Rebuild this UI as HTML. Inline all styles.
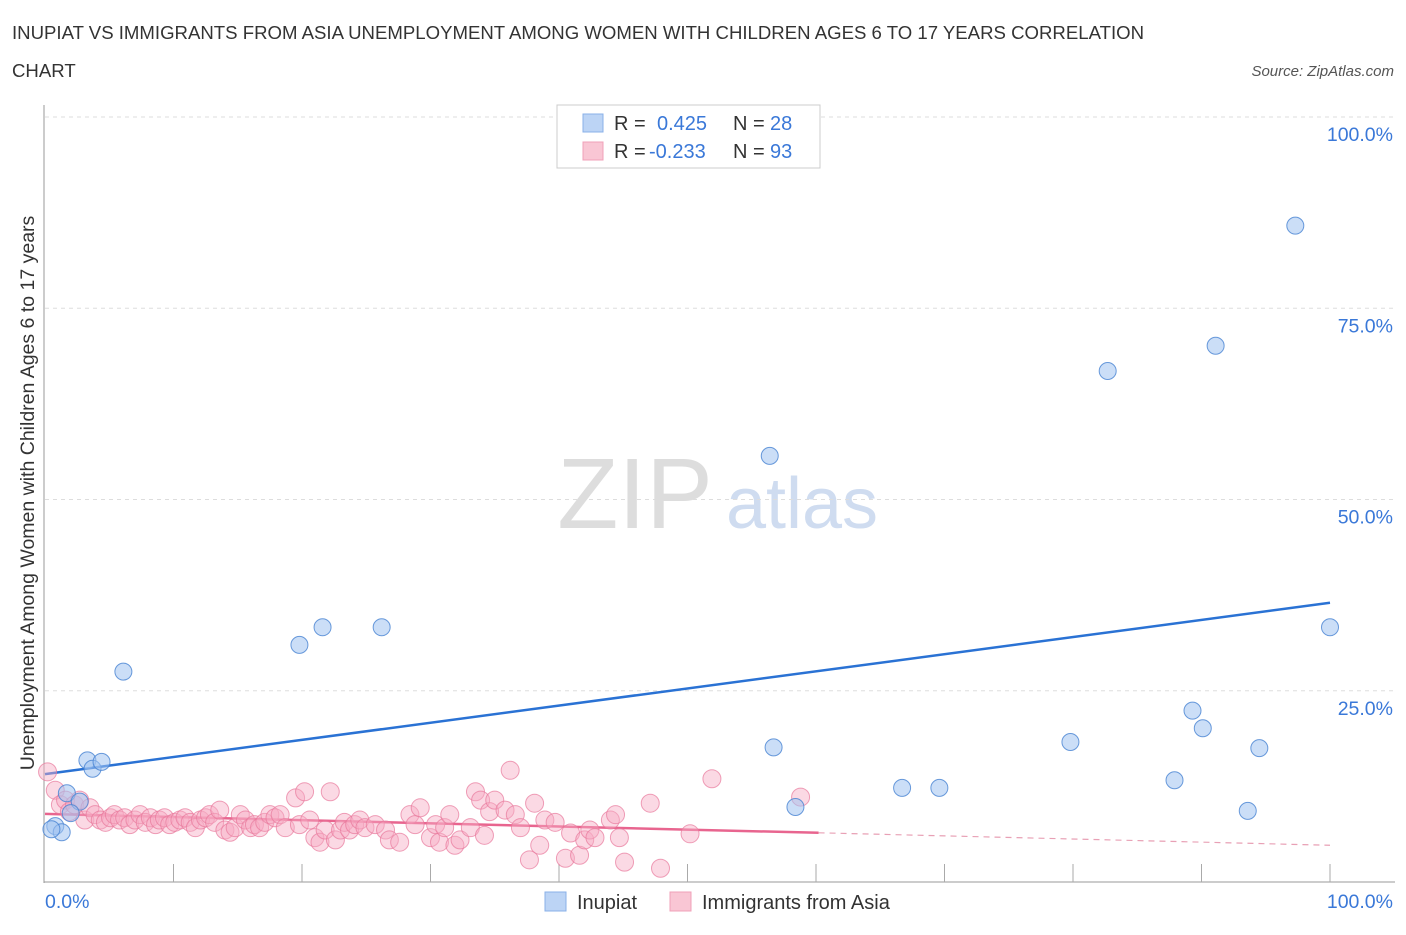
<!DOCTYPE html>
<html><head><meta charset="utf-8"><style>
body{margin:0;background:#fff;font-family:"Liberation Sans",sans-serif}
svg text{font-family:"Liberation Sans",sans-serif}
</style></head><body>
<svg id="chart" width="1406" height="930">
<text x="12" y="39" font-size="18.6" fill="#333">INUPIAT VS IMMIGRANTS FROM ASIA UNEMPLOYMENT AMONG WOMEN WITH CHILDREN AGES 6 TO 17 YEARS CORRELATION</text>
<text x="12" y="77" font-size="18.6" fill="#333">CHART</text>
<text x="1394" y="76" font-size="15" fill="#555" font-style="italic" text-anchor="end">Source: ZipAtlas.com</text>
<text x="34" y="493" font-size="19.5" fill="#333" text-anchor="middle" transform="rotate(-90 34 493)">Unemployment Among Women with Children Ages 6 to 17 years</text>
<text x="635" y="528" font-size="100" fill="#ddd" font-family="Liberation Serif" text-anchor="middle">ZIP</text>
<text x="802" y="528" font-size="72" fill="#cfdcf0" text-anchor="middle">atlas</text>
<g id="grid"></g><g id="axes"></g><g id="lines"></g><g id="pts"></g>
<g>
<rect x="557" y="105" width="263" height="63" fill="#fff" stroke="#ccc"/>
<rect x="583" y="114" width="20" height="18" fill="#bcd4f5" stroke="#8ab0e8"/>
<rect x="583" y="142" width="20" height="18" fill="#f9c6d4" stroke="#f0a0b8"/>
<text x="614" y="130" font-size="20" fill="#333">R = </text><text x="657" y="130" font-size="20" fill="#3a78d8">0.425</text>
<text x="733" y="130" font-size="20" fill="#333">N = </text><text x="770" y="130" font-size="20" fill="#3a78d8">28</text>
<text x="614" y="158" font-size="20" fill="#333">R = </text><text x="649" y="158" font-size="20" fill="#3a78d8">-0.233</text>
<text x="733" y="158" font-size="20" fill="#333">N = </text><text x="770" y="158" font-size="20" fill="#3a78d8">93</text>
</g>
<g>
<rect x="545" y="892" width="21" height="19" fill="#bcd4f5" stroke="#8ab0e8"/>
<text x="577" y="909" font-size="20" fill="#333">Inupiat</text>
<rect x="670" y="892" width="21" height="19" fill="#f9c6d4" stroke="#f0a0b8"/>
<text x="702" y="909" font-size="20" fill="#333">Immigrants from Asia</text>
</g>
</svg>
<script>
const blueX=[0.8,1.3,0.5,1.7,2.7,3.3,3.7,4.4,6.1,19.8,21.6,26.2,56.4,56.7,58.4,66.7,69.6,79.8,82.7,87.9,89.3,90.1,91.1,93.6,94.5,97.3,100,2.0];
const blueY=[7.3,6.5,6.9,11.6,10.5,15.9,14.8,15.7,27.5,31.0,33.3,33.3,55.7,17.6,9.8,12.3,12.3,18.3,66.8,13.3,22.4,20.1,70.1,9.3,17.5,85.8,33.3,9.0];
const pinkX=[0.2,0.8,1.2,1.6,1.9,2.3,2.7,3.1,3.5,3.9,4.3,4.7,5.1,5.4,5.8,6.2,6.6,7.0,7.4,7.8,8.2,8.6,8.9,9.3,9.7,10.1,10.5,10.9,11.3,11.7,12.1,12.5,12.8,13.2,13.6,14.0,14.4,14.8,15.2,15.6,16.0,16.3,16.7,17.1,17.5,17.9,18.3,18.7,19.5,19.8,20.2,20.6,21.0,21.4,21.8,22.2,22.6,23.0,23.3,23.7,24.1,24.5,24.9,25.7,26.5,26.8,27.6,28.4,28.8,29.2,30.0,30.4,30.7,31.1,31.5,31.9,32.3,33.1,33.5,33.9,34.2,34.6,35.0,35.8,36.2,36.6,37.0,37.7,38.1,38.5,38.9,39.7,40.5,40.9,41.6,42.0,42.4,42.8,44.0,44.4,44.7,45.1,47.1,47.9,50.2,51.9,58.8];
const pinkY=[14.4,12.0,10.1,10.7,9.2,10.1,10.7,8.1,9.7,8.8,8.1,7.8,8.4,8.8,8.1,8.4,7.5,8.1,8.8,7.8,8.4,7.5,8.1,8.4,7.5,7.8,8.1,8.4,7.8,7.1,8.1,8.4,8.8,7.8,9.4,6.8,6.5,7.1,8.8,8.1,7.1,7.5,7.1,7.8,8.8,8.4,8.8,7.1,11.0,7.5,11.8,8.1,5.8,5.2,6.8,11.8,5.5,6.8,7.8,6.8,7.5,8.1,7.1,7.5,6.8,5.5,5.2,8.8,7.5,9.7,5.8,7.5,5.2,7.1,8.8,4.8,5.5,7.1,11.8,10.7,6.1,9.2,10.7,9.4,14.6,8.8,7.1,2.9,10.3,4.8,8.1,7.8,3.1,6.4,3.5,5.5,6.8,5.8,8.1,8.8,5.8,2.6,10.3,1.8,6.3,13.5,11.1];
const trendBlue=[14.1,36.5];
const trendPink=[8.9,4.8];
const yTicks=[25,50,75,100];
const xTicks=[0,10,20,30,40,50,60,70,80,90,100];
const sx=v=>45+v*12.85, sy=v=>882-v*7.65;
const NS="http://www.w3.org/2000/svg";
function mk(p,t,a){const e=document.createElementNS(NS,t);for(const k in a)e.setAttribute(k,a[k]);p.appendChild(e);return e;}
const grid=document.getElementById('grid'),axes=document.getElementById('axes'),lines=document.getElementById('lines'),pts=document.getElementById('pts');
yTicks.forEach(t=>{
 const l=mk(grid,'line',{x1:45,x2:1395,y1:sy(t),y2:sy(t),stroke:'#ddd','stroke-dasharray':'4,4'});
 
 
 const tx=mk(grid,'text',{x:1393,y:sy(t)+24,'font-size':19.5,fill:'#3a78d8','text-anchor':'end'});
 tx.textContent=t.toFixed(1)+'%';
 
 
});
const ya=mk(axes,'line',{x1:44,x2:44,y1:105,y2:883,stroke:'#999'});


const xa=mk(axes,'line',{x1:44,x2:1395,y1:882,y2:882,stroke:'#999'});


xTicks.forEach(t=>{
 if(t===0)return;
 const l=mk(axes,'line',{x1:sx(t),x2:sx(t),y1:864,y2:882,stroke:'#aaa'});
 
 
});
[[0,'0.0%',45,'start'],[100,'100.0%',1393,'end']].forEach(([t,s,x,a])=>{
 const tx=mk(axes,'text',{x:x,y:908,'font-size':19.5,fill:'#3a78d8','text-anchor':a});
 tx.textContent=s;
 
 
});
pinkX.forEach((x,i)=>{
 const c=mk(pts,'circle',{cx:sx(x),cy:sy(pinkY[i]),r:9,fill:'rgba(246,170,195,0.45)',stroke:'rgba(232,120,155,0.7)','stroke-width':1});
 
 
});
blueX.forEach((x,i)=>{
 const c=mk(pts,'circle',{cx:sx(x),cy:sy(blueY[i]),r:8.5,fill:'rgba(160,195,240,0.55)',stroke:'rgba(70,130,210,0.8)','stroke-width':1});
 
 
});
const bl=mk(lines,'line',{x1:sx(0),y1:sy(trendBlue[0]),x2:sx(100),y2:sy(trendBlue[1]),stroke:'#2a72d4','stroke-width':2.5});


const pe=60.2, pm=trendPink[0]+(trendPink[1]-trendPink[0])*pe/100;
const pl=mk(lines,'line',{x1:sx(0),y1:sy(trendPink[0]),x2:sx(pe),y2:sy(pm),stroke:'#e8658f','stroke-width':2.5});


const pd=mk(lines,'line',{x1:sx(pe),y1:sy(pm),x2:sx(100),y2:sy(trendPink[1]),stroke:'#e8a0b5','stroke-width':1.2,'stroke-dasharray':'6,5'});


</script>
</body></html>
